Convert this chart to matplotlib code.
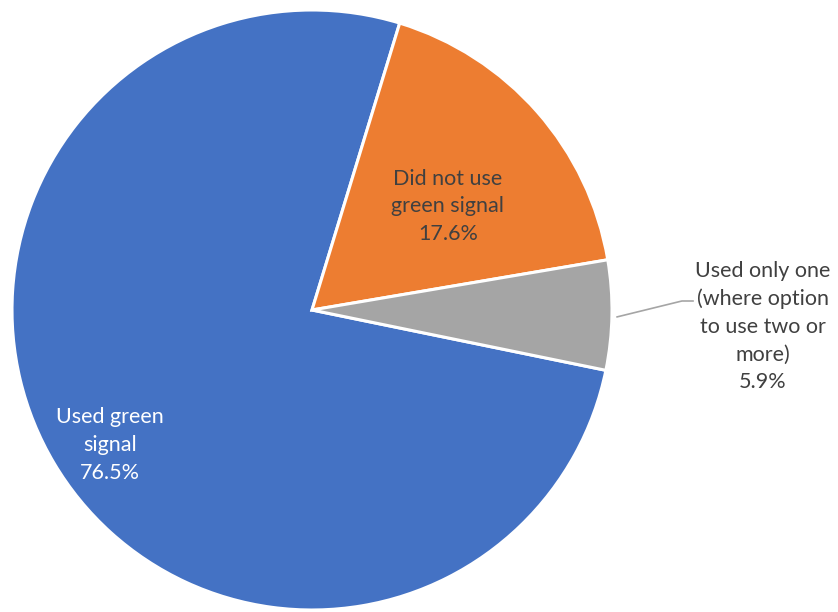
import matplotlib
matplotlib.use("Agg")
import matplotlib.pyplot as plt

labels = ["Used green signal", "Did not use green signal",
          "Used only one (where option to use two or more)"]
label_text = ["Used green\nsignal", "Did not use\ngreen signal",
              "Used only one\n(where option\nto use two or\nmore)"]
values = [76.5, 17.6, 5.9]
colors = ["#4472C4", "#ED7D31", "#A5A5A5"]

plt.rcParams["font.family"] = ["Lato", "DejaVu Sans"]

fig = plt.figure(figsize=(8.38, 6.12), dpi=100)
# pie centre at (312, 310) px, radius 300 px
ax = fig.add_axes([12 / 838, 2 / 612, 600 / 838, 600 / 612])
wedges, _ = ax.pie(values, colors=colors, startangle=-11.6, counterclock=False,
                   radius=1, wedgeprops=dict(edgecolor="white", linewidth=2.2))
ax.set_xlim(-1, 1)
ax.set_ylim(-1, 1)
ax.set_aspect("auto")
ax.axis("off")

fs = 15.5
ls = 1.48
ax.text(-0.673, -0.45, f"{label_text[0]}\n{values[0]}%", color="white",
        ha="center", va="center", fontsize=fs, linespacing=ls)
ax.text(0.453, 0.345, f"{label_text[1]}\n{values[1]}%", color="#404040",
        ha="center", va="center", fontsize=fs, linespacing=ls)
ax.text(1.503, -0.055, f"{label_text[2]}\n{values[2]}%", color="#404040",
        ha="center", va="center", fontsize=fs, linespacing=ls, clip_on=False)
ax.plot([1.017, 1.233, 1.27], [-0.023, 0.03, 0.03], color="#A5A5A5",
        linewidth=1.2, clip_on=False)

fig.savefig("out.png", dpi=100)
